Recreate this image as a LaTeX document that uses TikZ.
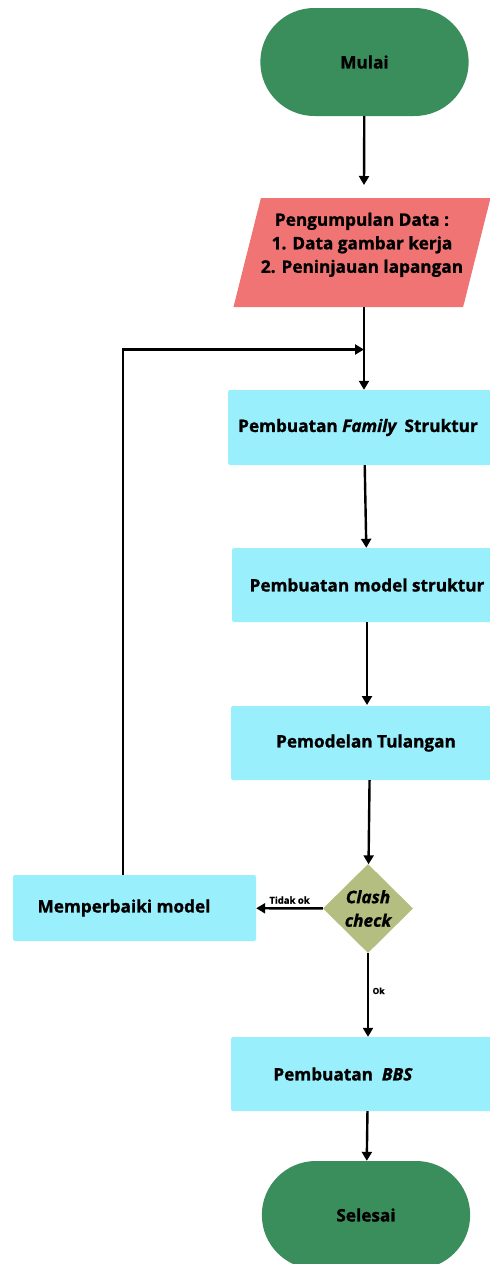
\documentclass[tikz,border=0pt]{standalone}
\usepackage{fontspec}
\setmainfont{Open Sans}[BoldFeatures={FakeBold=1.2},BoldItalicFeatures={FakeBold=1.2}]
\usetikzlibrary{arrows.meta,shapes.misc,shapes.geometric}
\definecolor{termgreen}{RGB}{58,142,92}
\definecolor{iored}{RGB}{240,116,116}
\definecolor{boxcyan}{RGB}{154,239,252}
\definecolor{checkolive}{RGB}{180,190,128}
\begin{document}
\begin{tikzpicture}[x=1pt,y=-1pt,
    every node/.style={font=\fontsize{17.2}{23.5}\selectfont\bfseries},
    terminal/.style={rounded rectangle,fill=termgreen,minimum width=215pt,minimum height=108pt},
    iobox/.style={trapezium,trapezium left angle=71,trapezium right angle=109,
      trapezium stretches body,fill=iored,minimum width=256pt,minimum height=109pt,
      inner sep=0pt,align=center},
    process/.style={rectangle,rounded corners=2pt,fill=boxcyan,minimum height=75pt},
    decision/.style={diamond,fill=checkolive,minimum width=90pt,minimum height=89pt,
      inner sep=0pt,align=center},
    line/.style={line width=2.4pt,-{Triangle[length=9pt,width=10pt]}}]
  \useasboundingbox (0,0) rectangle (490,1264);
  \clip (0,0) rectangle (490,1264);
  \node[terminal] (mulai) at (364.5,62) {Mulai};
  \node[iobox] (data) at (362,252.5) {Pengumpulan Data :\\1. Data gambar kerja\\2. Peninjauan lapangan\\[-4pt]\mbox{}};
  \node[process,minimum width=272pt] (family) at (364,427.5) {\hspace*{-12pt}Pembuatan \textit{Family}\, Struktur};
  \node[process,minimum width=270pt,minimum height=74pt] (model) at (367,585) {Pembuatan model struktur};
  \node[process,minimum width=278pt,minimum height=74pt] (tulangan) at (370,743) {\hspace*{-8pt}Pemodelan Tulangan};
  \node[decision] (check) at (368,908.5) {\itshape Clash\\\itshape check};
  \node[process,minimum width=243pt,minimum height=66pt] (fix) at (134.5,908) {\hspace*{-21pt}Memperbaiki model};
  \node[process,minimum width=274pt,minimum height=74pt] (bbs) at (368,1074) {\hspace*{-50pt}Pembuatan\ \ \textit{BBS}};
  \node[terminal] (selesai) at (366,1215) {Selesai};
  \coordinate (join) at (364,349.5);
  % alur utama
  \draw[line] (mulai) -- (364,185);
  \draw[line] (data.south -| join) -- (join |- family.north);
  \draw[line] (family) -- (model);
  \draw[line] (model.south -| 367,0) -- (367,705);
  \draw[line] (tulangan) -- (check);
  \draw[line] (check) -- node[pos=0.45,right,font=\fontsize{8.5}{10}\selectfont\bfseries] {Ok} (bbs);
  \draw[line] (bbs) -- (selesai);
  % revisi
  \draw[line] (check) -- node[above,font=\fontsize{9.5}{10}\selectfont\bfseries] {Tidak ok} (fix);
  \draw[line] (fix.north -| 123,0) |- (join);
\end{tikzpicture}
\end{document}
